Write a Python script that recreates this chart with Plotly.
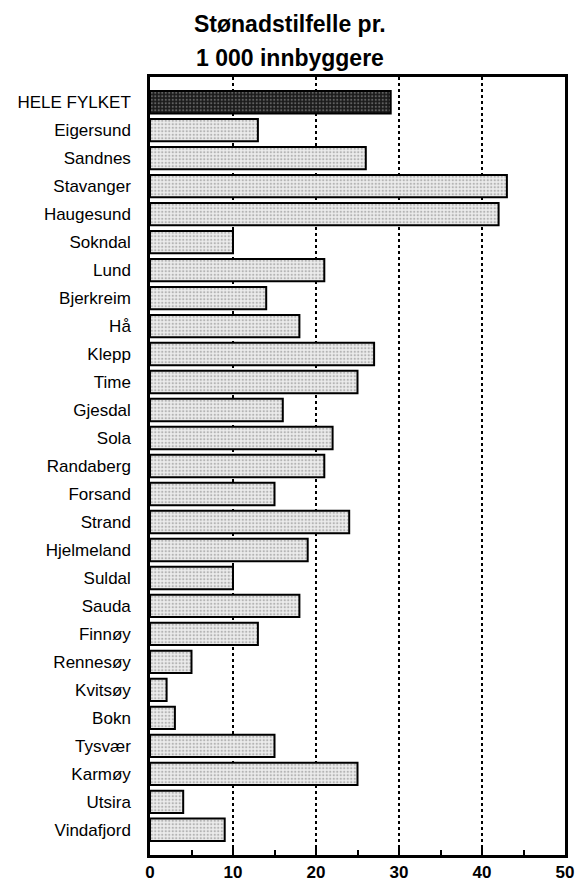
import plotly.graph_objects as go

categories = ["HELE FYLKET", "Eigersund", "Sandnes", "Stavanger", "Haugesund", "Sokndal",
              "Lund", "Bjerkreim", "Hå", "Klepp", "Time", "Gjesdal", "Sola", "Randaberg",
              "Forsand", "Strand", "Hjelmeland", "Suldal", "Sauda", "Finnøy", "Rennesøy",
              "Kvitsøy", "Bokn", "Tysvær", "Karmøy", "Utsira", "Vindafjord"]
values = [29, 13, 26, 43, 42, 10, 21, 14, 18, 27, 25, 16, 22, 21, 15, 24, 19, 10, 18, 13,
          5, 2, 3, 15, 25, 4, 9]
x_ticks = [0, 10, 20, 30, 40, 50]
title_lines = ["Stønadstilfelle pr.", "1 000 innbyggere"]
total_label = "HELE FYLKET"

# page body has an 8px default margin; compensate so the plot lands where the reference is
OFF = 8
W, H = 583 - OFF, 891 - OFF
L, R, T, B = 143 - OFF, 9, 77 - OFF, 25
plot_h = H - T - B
plot_w = W - L - R

tot_y = [c for c in categories if c == total_label]
tot_x = [v for c, v in zip(categories, values) if c == total_label]
mun_y = [c for c in categories if c != total_label]
mun_x = [v for c, v in zip(categories, values) if c != total_label]

fig = go.Figure()
fig.add_trace(go.Bar(
    x=mun_x, y=mun_y, orientation="h", width=0.8,
    marker=dict(
        color="#ececec",
        line=dict(color="black", width=2),
        pattern=dict(shape=".", bgcolor="#ececec", fgcolor="#7c7c7c", size=3.5, solidity=0.35),
    ),
))
fig.add_trace(go.Bar(
    x=tot_x, y=tot_y, orientation="h", width=0.8,
    marker=dict(
        color="#1a1a1a",
        line=dict(color="black", width=2),
        pattern=dict(shape=".", bgcolor="#1a1a1a", fgcolor="#a8a8a8", size=3.5, solidity=0.3),
    ),
))

font_family = "Liberation Sans, Arial, Helvetica, sans-serif"

fig.update_layout(
    width=W, height=H,
    margin=dict(l=L, r=R, t=T, b=B, pad=0),
    paper_bgcolor="white", plot_bgcolor="white",
    showlegend=False, barmode="overlay",
    font=dict(family=font_family, color="black"),
    xaxis=dict(
        range=[0, 50], tickvals=x_ticks, ticktext=[str(v) for v in x_ticks],
        showgrid=True, gridcolor="black", gridwidth=1.5, griddash="dot",
        zeroline=False,
        showline=True, linecolor="black", linewidth=2.5, mirror=True,
        ticks="inside", ticklen=8, tickwidth=2, tickcolor="black",
        minor=dict(ticks="inside", tickvals=[5, 15, 25, 35, 45], ticklen=5, tickwidth=1.5,
                   tickcolor="black", showgrid=False),
        tickfont=dict(size=17, family=font_family, weight="bold"),
        fixedrange=True,
    ),
    yaxis=dict(
        categoryorder="array", categoryarray=categories,
        range=[len(categories) - 1 + 0.9, -0.9],
        showgrid=False, zeroline=False,
        showline=True, linecolor="black", linewidth=2.5, mirror=True,
        ticks="", ticklabelstandoff=13,
        tickfont=dict(size=17, family=font_family),
        fixedrange=True,
    ),
)

title_centers = [23 - OFF, 58 - OFF]
for line, yc in zip(title_lines, title_centers):
    fig.add_annotation(
        text=line, xref="paper", yref="paper",
        x=(288 - OFF - L) / plot_w, y=(H - B - yc) / plot_h,
        xanchor="center", yanchor="middle", showarrow=False,
        font=dict(size=23, family=font_family, weight="bold", color="black"),
    )

fig.write_html("out.html")
